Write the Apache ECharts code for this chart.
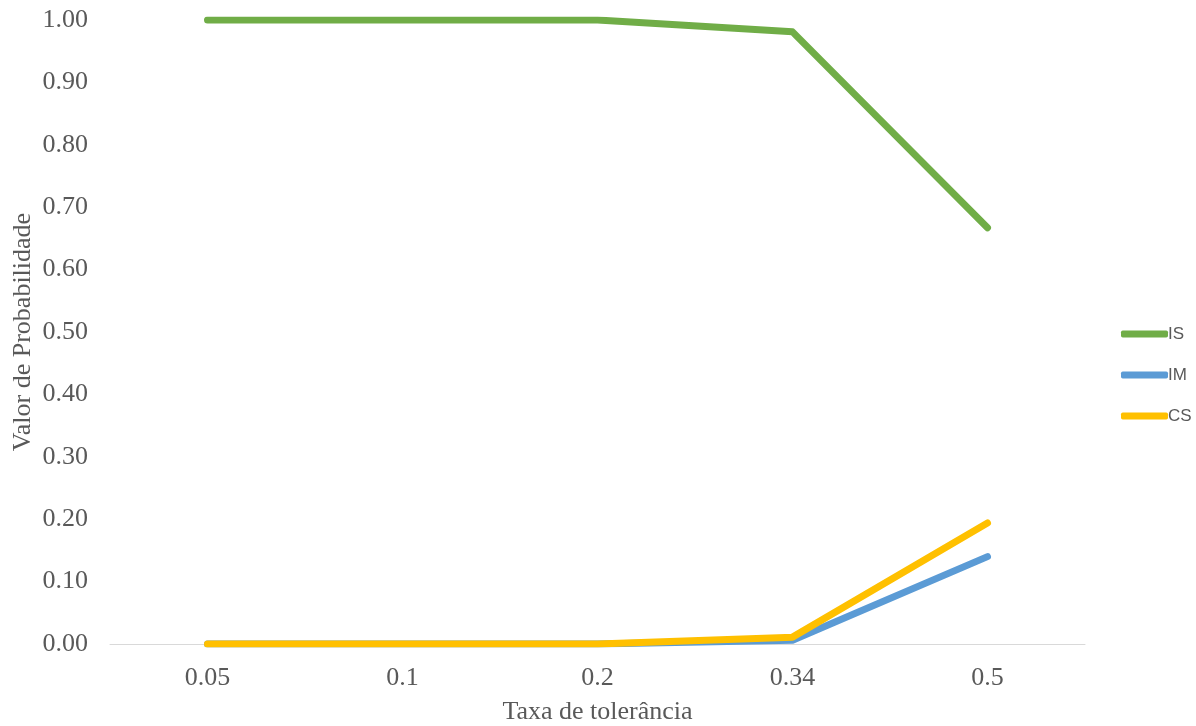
<!DOCTYPE html>
<html>
<head>
<meta charset="utf-8">
<script src="https://cdn.jsdelivr.net/npm/echarts@6/dist/echarts.min.js"></script>
<style>
  html, body { margin: 0; padding: 0; background: #fff; }
  #chart { width: 1196px; height: 726px; }
</style>
</head>
<body>
<div id="chart"></div>
<script>
// Tolerance rates on the x axis
const categories = ['0.05', '0.1', '0.2', '0.34', '0.5'];
// Probability values per series
const isValues = [1.00, 1.00, 1.00, 0.981, 0.667];
const imValues = [0.00, 0.00, 0.00, 0.006, 0.140];
const csValues = [0.00, 0.00, 0.00, 0.011, 0.194];

const serif = '"Liberation Serif", "Times New Roman", serif';
const sans = '"Liberation Sans Narrow", "Liberation Sans", sans-serif';
const textColor = '#595959';

function lineSeries(name, data, color, z) {
  return {
    name: name,
    type: 'line',
    data: data,
    symbol: 'none',
    z: z,
    lineStyle: { width: 7, color: color, cap: 'round', join: 'round' },
    itemStyle: { color: color }
  };
}

const chart = echarts.init(document.getElementById('chart'), null, { renderer: 'canvas' });
chart.setOption({
  animation: false,
  backgroundColor: '#ffffff',
  grid: { left: 110, right: 111, top: 20, bottom: 82, containLabel: false, outerBoundsMode: 'none' },
  legend: {
    orient: 'vertical',
    left: 1121,
    top: 325,
    padding: 0,
    itemWidth: 47,
    itemHeight: 7,
    itemGap: 23,
    icon: 'roundRect',
    textStyle: { fontFamily: sans, fontSize: 17, lineHeight: 18, color: textColor, padding: [0, 0, 0, -5] },
    data: ['IS', 'IM', 'CS']
  },
  xAxis: {
    type: 'category',
    data: categories,
    boundaryGap: true,
    name: 'Taxa de tolerância',
    nameLocation: 'middle',
    nameGap: 55,
    nameMoveOverlap: false,
    nameTextStyle: { fontFamily: serif, fontSize: 26, color: textColor },
    axisLine: { lineStyle: { color: '#d9d9d9', width: 1 } },
    axisTick: { show: false },
    axisLabel: { fontFamily: serif, fontSize: 26, color: textColor, margin: 21 }
  },
  yAxis: {
    type: 'value',
    min: 0,
    max: 1,
    interval: 0.1,
    name: 'Valor de Probabilidade',
    nameLocation: 'middle',
    nameGap: 74,
    nameMoveOverlap: false,
    nameTextStyle: { fontFamily: serif, fontSize: 26, color: textColor },
    axisLine: { show: false },
    axisTick: { show: false },
    splitLine: { show: false },
    axisLabel: {
      fontFamily: serif, fontSize: 26, color: textColor, margin: 22,
      formatter: v => v.toFixed(2)
    }
  },
  series: [
    lineSeries('IS', isValues, '#70ad47', 3),
    lineSeries('IM', imValues, '#5b9bd5', 4),
    lineSeries('CS', csValues, '#ffc000', 5)
  ]
});
</script>
</body>
</html>
